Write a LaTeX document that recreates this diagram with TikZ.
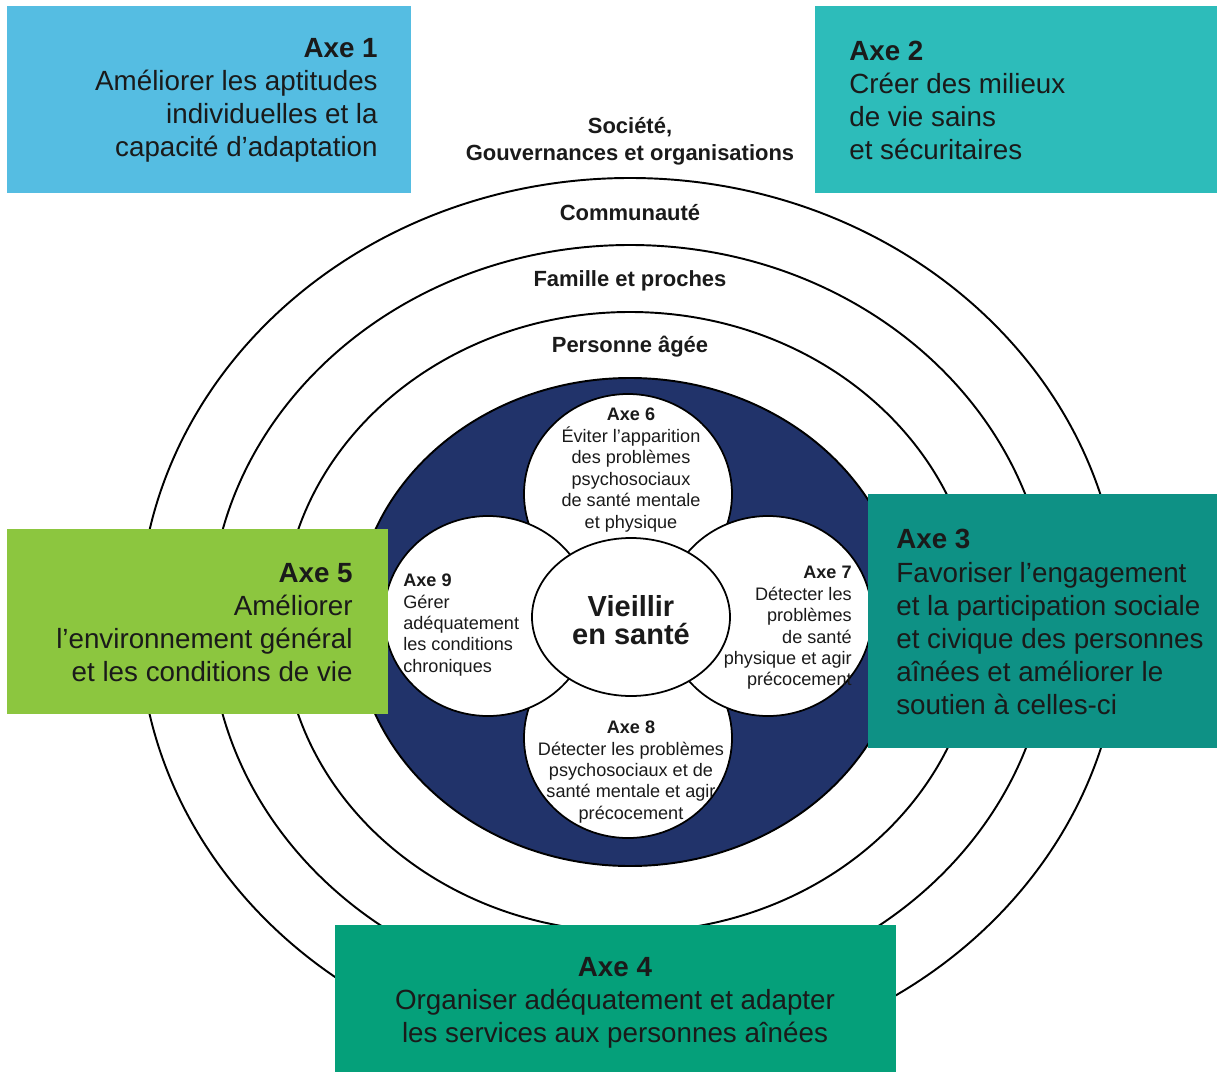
\documentclass[tikz,border=0pt]{standalone}
\usepackage{fontspec}
\setmainfont{Liberation Sans}
\usetikzlibrary{positioning}
\usetikzlibrary{calc}

\definecolor{axeun}{HTML}{55BDE2}
\definecolor{axedeux}{HTML}{2DBCBA}
\definecolor{axetrois}{HTML}{0E9185}
\definecolor{axequatre}{HTML}{05A07A}
\definecolor{axecinq}{HTML}{8CC63F}
\definecolor{marine}{HTML}{21336A}
\definecolor{encre}{HTML}{1A1A1A}

\begin{document}
\begin{tikzpicture}[
  ring/.style={draw=black, line width=1.1pt},
  petal/.style={draw=black, fill=white, line width=1pt},
  boxtxt/.style={inner sep=0pt, text=encre, font=\fontsize{15.8}{18.8}\selectfont},
  petaltxt/.style={inner sep=0pt, text=encre, font=\fontsize{10.3}{12.2}\selectfont},
  ringtxt/.style={inner sep=0pt, text=encre, align=center, font=\fontsize{12.5}{15.3}\selectfont\bfseries},
]

\useasboundingbox (-12.6,12.44) rectangle (11.74,-9.0);

\coordinate (C) at (0,0);
\coordinate (P) at (-0.04,0.12);

% les quatre milieux
\draw[ring] (C) ellipse (9.82cm and 8.88cm);
\draw[ring] (C) ellipse (8.4cm and 7.54cm);
\draw[ring] (C) ellipse (6.95cm and 6.2cm);
\draw[ring, fill=marine] (C) ellipse (5.5cm and 4.88cm);

% petales
\draw[petal] ($(P)+(0, 2.44)$) ellipse (2.08cm and 2cm);
\draw[petal] ($(P)+(0,-2.44)$) ellipse (2.08cm and 2cm);
\draw[petal] ($(P)+(-2.8,0)$) ellipse (2.08cm and 2cm);
\draw[petal] ($(P)+( 2.8,0)$) ellipse (2.08cm and 2cm);
\draw[petal] (0.02,0.1) ellipse (1.98cm and 1.58cm);

\node[inner sep=0pt, text=encre, align=center, font=\fontsize{16.5}{16}\selectfont\bfseries] (VS) at (0.02,0.04) {Vieillir\\en sant\'e};

\node[petaltxt, align=center] (A6) at (0.02,3.04) {\textbf{Axe 6}\\\'Eviter l'apparition\\des probl\`emes\\psychosociaux\\de sant\'e mentale\\et physique};
\node[petaltxt, align=right, anchor=east] (A7) at (4.44,-0.12) {\textbf{Axe 7}\\D\'etecter les\\probl\`emes\\de sant\'e\\physique et agir\\pr\'ecocement};
\node[petaltxt, align=center] (A8) at (0.02,-3.0) {\textbf{Axe 8}\\D\'etecter les probl\`emes\\psychosociaux et de\\sant\'e mentale et agir\\pr\'ecocement};
\node[petaltxt, align=left, anchor=west] (A9) at (-4.54,-0.06) {\textbf{Axe 9}\\G\'erer\\ad\'equatement\\les conditions\\chroniques};

% les axes autour
\fill[axeun] (-12.46,12.32) rectangle (-4.38,8.58);
\fill[axedeux] (3.7,12.32) rectangle (11.74,8.58);
\fill[axetrois] (4.76,2.56) rectangle (11.74,-2.52);
\fill[axequatre] (-5.9,-6.06) rectangle (5.32,-9.0);
\fill[axecinq] (-12.46,1.86) rectangle (-4.84,-1.84);

\node[boxtxt, align=right, anchor=east] (A1) at (-5.04,10.43) {\textbf{Axe 1}\\Am\'eliorer les aptitudes\\individuelles et la\\capacit\'e d'adaptation};
\node[boxtxt, align=left, anchor=west] (A2) at (4.38,10.43) {\textbf{Axe 2}\\Cr\'eer des milieux\\de vie sains\\et s\'ecuritaires};
\node[boxtxt, align=left, anchor=west] (A3) at (5.32,0) {\textbf{Axe 3}\\Favoriser l'engagement\\et la participation sociale\\et civique des personnes\\a\^in\'ees et am\'eliorer le\\soutien \`a celles-ci};
\node[boxtxt, align=center] (A4) at (-0.3,-7.62) {\textbf{Axe 4}\\Organiser ad\'equatement et adapter\\les services aux personnes a\^in\'ees};
\node[boxtxt, align=right, anchor=east] (A5) at (-5.54,-0.02) {\textbf{Axe 5}\\Am\'eliorer\\l'environnement g\'en\'eral\\et les conditions de vie};

% noms des milieux
\node[ringtxt] (SOC) at (0,9.62) {Soci\'et\'e,\\Gouvernances et organisations};
\node[ringtxt] (COM) at (0,8.18) {Communaut\'e};
\node[ringtxt] (FAM) at (0,6.82) {Famille et proches};
\node[ringtxt] (PERS) at (0,5.5) {Personne \^ag\'ee};

\end{tikzpicture}
\end{document}
